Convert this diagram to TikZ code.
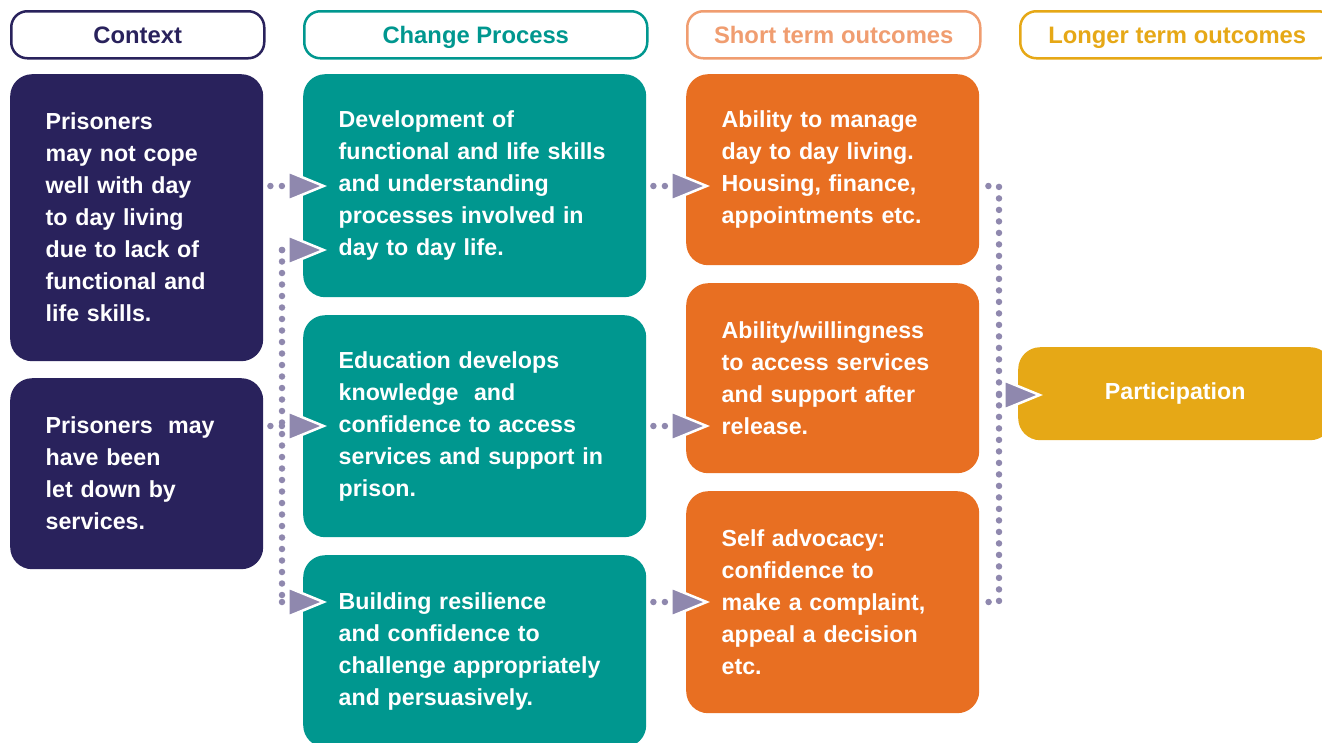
\documentclass[tikz,border=0pt]{standalone}
\usepackage{fontspec}
\setmainfont{Liberation Sans}
\usetikzlibrary{arrows.meta}

\definecolor{navy}{HTML}{29225C}
\definecolor{teal}{HTML}{00978F}
\definecolor{orng}{HTML}{E86F22}
\definecolor{lorng}{HTML}{F09D70}
\definecolor{gold}{HTML}{E6A816}
\definecolor{linkc}{HTML}{8F88AE}

\tikzset{
  head/.style={draw=#1, text=#1, line width=2.5pt, rounded corners=16pt, fill=white,
    anchor=north west, minimum height=47pt, inner sep=0pt, text height=17pt, text depth=0pt,
    font=\bfseries\fontsize{23.8}{28}\selectfont},
  box/.style={fill=#1, text=white, rounded corners=22pt, anchor=north west,
    align=left, inner xsep=35.5pt, inner ysep=0pt,
    font=\bfseries\fontsize{23.2}{32}\selectfont},
  link/.style={linkc, line width=6.5pt, line cap=round, dash pattern=on 0pt off 11.5pt},
  tip/.style={-{Triangle[length=40pt,width=32pt,fill=linkc,color=white,line width=2.5pt]}}
}

\begin{document}
\begin{tikzpicture}[x=1pt,y=-1pt]

\clip (0,0) rectangle (1322,742);

% draw headers
\node[head=navy, minimum width=253pt] (hctx) at (10,10) {Context};
\node[head=teal, minimum width=343pt] (hchg) at (303,10) {Change Process};
\node[head=lorng, minimum width=293pt] (hsto) at (686,10) {Short term outcomes};
\node[head=gold, minimum width=314pt] (hlto) at (1019,10) {Longer term outcomes};

% draw context
\node[box=navy, text width=182pt, minimum height=287pt] (ctx1) at (10,74)
  {Prisoners\\may not cope\\well with day\\to day living\\due to lack of\\functional and\\life skills.};
\node[box=navy, text width=182pt, minimum height=191pt] (ctx2) at (10,378)
  {Prisoners\ \ may\\have been\\let down by\\services.};

% draw change process
\node[box=teal, text width=272pt, minimum height=223pt] (chg1) at (303,74)
  {Development of\\functional and life skills\\and understanding\\processes involved in\\day to day life.};
\node[box=teal, text width=272pt, minimum height=222pt] (chg2) at (303,315)
  {Education develops\\knowledge\ \ and\\confidence to access\\services and support in\\prison.};
\node[box=teal, text width=272pt, minimum height=192pt] (chg3) at (303,555)
  {Building resilience\\and confidence to\\challenge appropriately\\and persuasively.};

% draw short term outcomes
\node[box=orng, text width=222pt, minimum height=191pt] (sto1) at (686,74)
  {Ability to manage\\day to day living.\\Housing, finance,\\appointments etc.};
\node[box=orng, text width=222pt, minimum height=190pt] (sto2) at (686,283)
  {Ability/willingness\\to access services\\and support after\\release.};
\node[box=orng, text width=222pt, minimum height=222pt] (sto3) at (686,491)
  {Self advocacy:\\confidence to\\make a complaint,\\appeal a decision\\etc.};

% draw longer term outcome
\node[box=gold, align=center, minimum width=314pt, minimum height=93pt, inner xsep=0pt] (part) at (1018,347)
  {Participation};

% rows and junctions
\coordinate (r1) at (0,186);
\coordinate (r2) at (0,250);
\coordinate (r3) at (0,426);
\coordinate (r4) at (0,602);
\coordinate (lt) at (282,250);
\coordinate (lb) at (282,602);
\coordinate (rt) at (999,186);
\coordinate (rb) at (999,602);
\coordinate (rm) at (999,395);

% left links
\draw[link] (lt) -- (lb);
\draw[link, tip, shorten <=7pt, shorten >=-24pt] (ctx1.east |- r1) -- (chg1.west |- r1);
\draw[link, tip, shorten >=-24pt] (lt) -- (chg1.west |- r2);
\draw[link, tip, shorten <=7pt, shorten >=-24pt] (ctx2.east |- r3) -- (chg2.west |- r3);
\draw[link, tip, shorten >=-24pt] (lb) -- (chg3.west |- r4);

% middle links
\draw[link, tip, shorten <=7pt, shorten >=-24pt] (chg1.east |- r1) -- (sto1.west |- r1);
\draw[link, tip, shorten <=7pt, shorten >=-24pt] (chg2.east |- r3) -- (sto2.west |- r3);
\draw[link, tip, shorten <=7pt, shorten >=-24pt] (chg3.east |- r4) -- (sto3.west |- r4);

% right links
\draw[link, shorten <=9pt] (sto1.east |- rt) -- (rt) -- (rb) -- (sto3.east |- rb);
\draw[link, tip, shorten >=-25pt] (rm) -- (part.west |- rm);

\end{tikzpicture}
\end{document}
